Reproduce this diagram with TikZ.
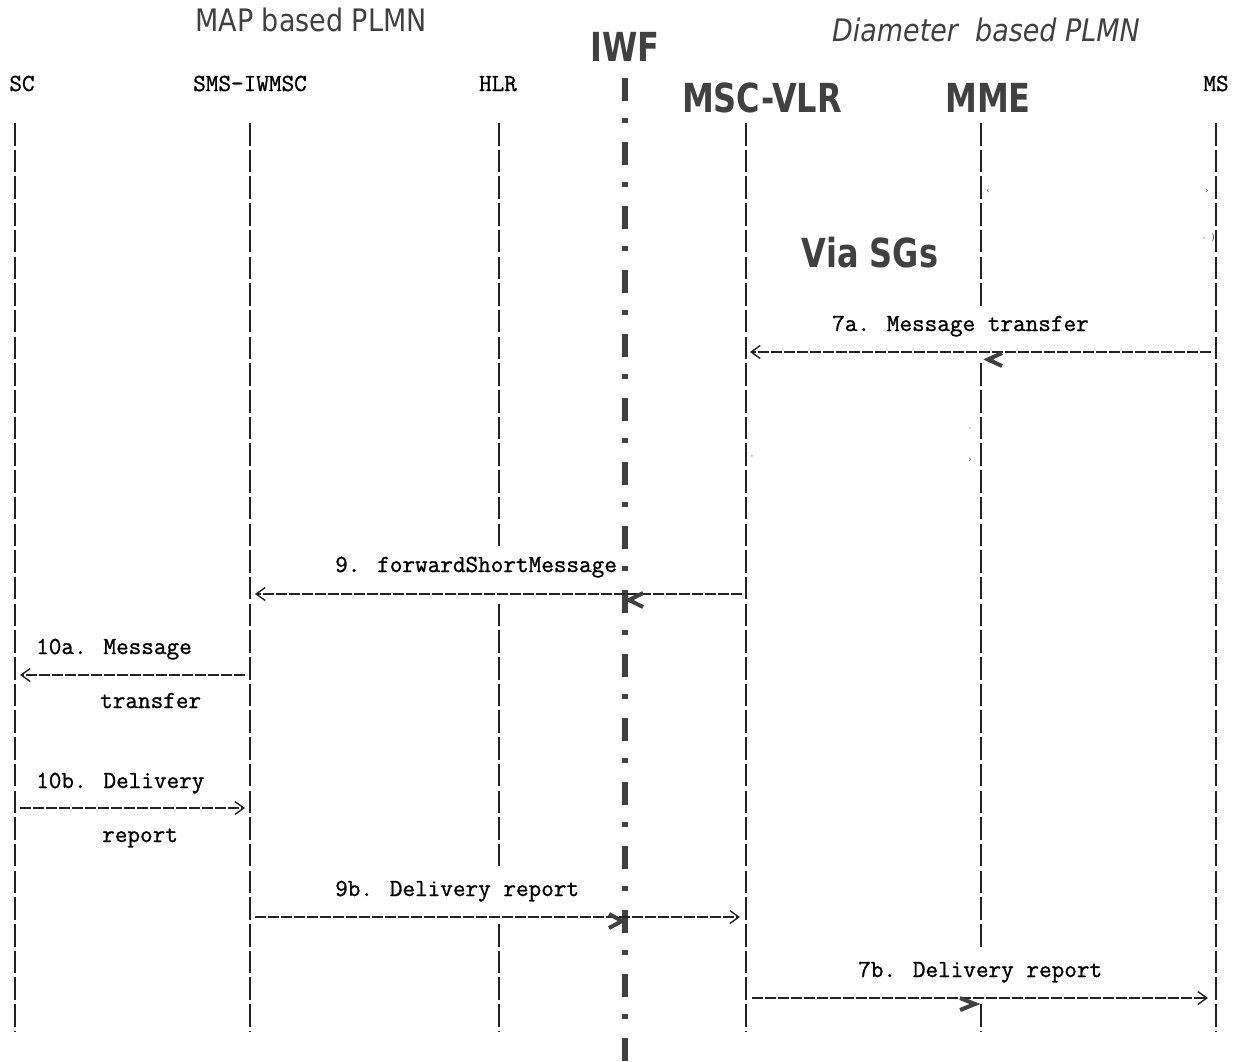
\documentclass[tikz,border=0pt]{standalone}
\usepackage{fontspec}
\usetikzlibrary{arrows.meta}
\newfontfamily\hdrreg[FakeStretch=0.87]{DejaVu Sans}
\newfontfamily\hdrbold[FakeStretch=0.8]{DejaVu Sans}
\newfontfamily\monofont[FakeBold=1]{Latin Modern Mono}
\newfontfamily\markfont{DejaVu Sans}
\definecolor{hdr}{HTML}{404040}
\definecolor{lifeclr}{HTML}{222222}
\begin{document}
\begin{tikzpicture}[x=1pt,y=-1pt,
  hdrtxt/.style={inner sep=0pt, anchor=base, text=hdr, font=\hdrreg\fontsize{31}{31}\selectfont},
  hdrit/.style={inner sep=0pt, anchor=base, text=hdr, font=\hdrreg\itshape\fontsize{31}{31}\selectfont},
  hdrbf/.style={inner sep=0pt, anchor=base, text=hdr, font=\hdrbold\bfseries\fontsize{40}{40}\selectfont},
  entity/.style={inner sep=0pt, anchor=base, text=black, font=\monofont\fontsize{24.5}{24.5}\selectfont},
  msg/.style={inner sep=0pt, anchor=base west, text=black, font=\monofont\fontsize{24.5}{24.5}\selectfont},
  lifeline/.style={draw=lifeclr, line width=2.2pt, dash pattern=on 22.5pt off 4.2pt},
  rowgap/.style={fill=white, draw=none},
  iwfline/.style={draw=hdr, line width=6pt, dash pattern=on 23pt off 17pt on 5pt off 19pt},
  asciiarrow/.style={draw=lifeclr, line width=1.6pt, dash pattern=on 11pt off 2pt,
     -{Straight Barb[length=9pt,width=13pt,line width=1.4pt]}},
  boldchev/.style={draw=hdr, line width=4pt, line cap=butt, line join=miter},
  tinymark/.style={inner sep=0pt, text=black!70, font=\markfont\fontsize{9}{9}\selectfont}
]
\useasboundingbox[fill=white] (0,0) rectangle (1241,1061);

% region headings
\node[hdrtxt] (mapplmn) at (311,31) {MAP based PLMN};
\node[hdrit] (diaplmn) at (986,41) {Diameter\ \ based PLMN};
\node[hdrbf] (iwf) at (625,61) {IWF};
\node[hdrbf] (mscvlr) at (762,112) {MSC-VLR};
\node[hdrbf] (mme) at (988,112) {MME};
\node[hdrbf] (viasgs) at (870,267) {Via SGs};

% entity labels
\node[entity] (sc) at (22,91) {SC};
\node[entity] (smsiwmsc) at (250,91) {SMS-IWMSC};
\node[entity] (hlr) at (498,91) {HLR};
\node[entity] (ms) at (1216,91) {MS};

% lifeline end points
\coordinate (scT) at (15,123);   \coordinate (scB) at (15,1032);
\coordinate (smsT) at (250,123); \coordinate (smsB) at (250,1032);
\coordinate (hlrT) at (499,123); \coordinate (hlrB) at (499,1032);
\coordinate (mscT) at (746,123); \coordinate (mscB) at (746,1032);
\coordinate (mmeT) at (981,123); \coordinate (mmeB) at (981,1032);
\coordinate (msT) at (1216,123); \coordinate (msB) at (1216,1032);
\coordinate (iwfT) at (625,78);  \coordinate (iwfB) at (625,1061);

\draw[lifeline] (scT) -- (scB);
\draw[lifeline] (smsT) -- (smsB);
\draw[lifeline] (hlrT) -- (hlrB);
\draw[lifeline] (mscT) -- (mscB);
\draw[lifeline] (mmeT) -- (mmeB);
\draw[lifeline] (msT) -- (msB);

% rows where a message crosses a lifeline (no lifeline segment there)
\fill[rowgap] (975,308) rectangle (987,361);
\fill[rowgap] (493,548) rectangle (505,601);
\fill[rowgap] (493,868) rectangle (505,922);
\fill[rowgap] (975,948) rectangle (987,1002);

\draw[iwfline] (iwfT) -- (iwfB);

% tiny residual marks
\node[tinymark] (m1) at (988,191) {‹};
\node[tinymark] (m2) at (1207,191) {›};
\node[tinymark] (m3) at (1204,240) {·};
\node[tinymark] (m4) at (1213,238) {)};
\node[tinymark] (m5) at (970,430) {·};
\node[tinymark] (m6) at (970,460) {›};
\node[tinymark] (m7) at (752,458) {·};

% message endpoints
\coordinate (a7aS) at (1211,352); \coordinate (a7aE) at (750,352);
\coordinate (a9S) at (742,594);   \coordinate (a9E) at (255,594);
\coordinate (a10aS) at (245,675); \coordinate (a10aE) at (20,675);
\coordinate (a10bS) at (20,808);  \coordinate (a10bE) at (245,808);
\coordinate (a9bS) at (255,917);  \coordinate (a9bE) at (740,917);
\coordinate (a7bS) at (752,998);  \coordinate (a7bE) at (1208,998);

% messages
\node[msg] (l7a) at (832,331) {7a. Message transfer};
\draw[asciiarrow] (a7aS) -- (a7aE);
\draw[boldchev] (1002,353) -- (988,359.5) -- (1002,366);

\node[msg] (l9) at (335,572) {9. forwardShortMessage};
\draw[asciiarrow] (a9S) -- (a9E);
\draw[boldchev] (643,593) -- (629,600) -- (643,607);

\node[msg] (l10a) at (36,654) {10a. Message};
\node[msg] (l10a2) at (100,708) {transfer};
\draw[asciiarrow] (a10aS) -- (a10aE);

\node[msg] (l10b) at (36,788) {10b. Delivery};
\node[msg] (l10b2) at (102,842) {report};
\draw[asciiarrow] (a10bS) -- (a10bE);

\node[msg] (l9b) at (335,896) {9b. Delivery report};
\draw[asciiarrow] (a9bS) -- (a9bE);
\draw[boldchev] (609,914) -- (622,921) -- (609,928);

\node[msg] (l7b) at (858,977) {7b. Delivery report};
\draw[asciiarrow] (a7bS) -- (a7bE);
\draw[boldchev] (960,998) -- (975,1004) -- (960,1010);
\end{tikzpicture}
\end{document}
